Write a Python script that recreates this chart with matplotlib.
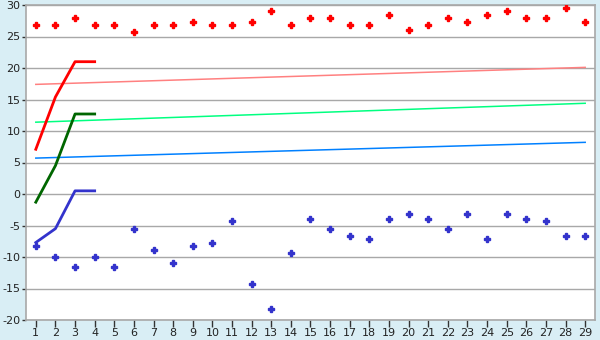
import matplotlib
matplotlib.use("Agg")
import matplotlib.pyplot as plt

plt.rcParams["axes.unicode_minus"] = False

# categories on the x axis
categories = list(range(1, 30))

# scattered diamond series
red_points = [26.8, 26.8, 27.9, 26.8, 26.8, 25.7, 26.8, 26.8, 27.3, 26.8,
              26.8, 27.3, 29.0, 26.8, 27.9, 27.9, 26.8, 26.8, 28.4, 26.1,
              26.8, 27.9, 27.3, 28.4, 29.0, 27.9, 27.9, 29.5, 27.3]
blue_points = [-8.3, -10.0, -11.6, -10.0, -11.6, -5.6, -8.9, -11.0, -8.3, -7.8,
               -4.3, -14.3, -18.3, -9.4, -3.9, -5.6, -6.7, -7.2, -3.9, -3.2,
               -3.9, -5.6, -3.2, -7.2, -3.2, -3.9, -4.3, -6.7, -6.7]

# thick short lines (first four categories)
short_x = [1, 2, 3, 4]
red_line = [7.1, 15.4, 21.0, 21.0]
green_line = [-1.3, 4.5, 12.7, 12.7]
blue_line = [-7.7, -5.5, 0.5, 0.5]

# thin trend lines, start and end values
trend_x = [1, 29]
pink_trend = [17.4, 20.1]
lime_trend = [11.4, 14.4]
sky_trend = [5.7, 8.2]

yticks = list(range(-20, 31, 5))

bg = "#D9EEF5"
grey = "#A8A8A8"

fig = plt.figure(figsize=(6, 3.4), dpi=100, facecolor=bg)
ax = fig.add_axes([26 / 600, 20 / 340, 569 / 600, 315 / 340])
ax.set_facecolor("white")

for y in yticks:
    ax.axhline(y, color=grey, linewidth=1.0, zorder=1)

ax.plot(trend_x, pink_trend, color="#FF8080", linewidth=1.1, zorder=2)
ax.plot(trend_x, lime_trend, color="#00FF80", linewidth=1.1, zorder=2)
ax.plot(trend_x, sky_trend, color="#0080FF", linewidth=1.1, zorder=2)

ax.plot(short_x, red_line, color="#FF0000", linewidth=2.0, zorder=3)
ax.plot(short_x, green_line, color="#006600", linewidth=2.0, zorder=3)
ax.plot(short_x, blue_line, color="#3333CC", linewidth=2.0, zorder=3)

ax.plot(categories, red_points, linestyle="none", marker="P", markersize=4.3,
        color="#FF0000", zorder=4)
ax.plot(categories, blue_points, linestyle="none", marker="P", markersize=4.3,
        color="#3333CC", zorder=4)

ax.set_xlim(0.5, 29.5)
ax.set_ylim(-20, 30)
ax.set_xticks(categories)
ax.set_xticklabels([str(c) for c in categories])
ax.set_yticks(yticks)

for s in ax.spines.values():
    s.set_color(grey)
    s.set_linewidth(1.2)

ax.tick_params(axis="x", direction="out", length=5, width=1, color="#333333",
               labelsize=8, pad=1, labelcolor="#222222")
ax.tick_params(axis="y", direction="out", length=3, width=1, color="#333333",
               labelsize=8, pad=1, labelcolor="#222222")

fig.savefig("out.png", dpi=100, facecolor=bg)
